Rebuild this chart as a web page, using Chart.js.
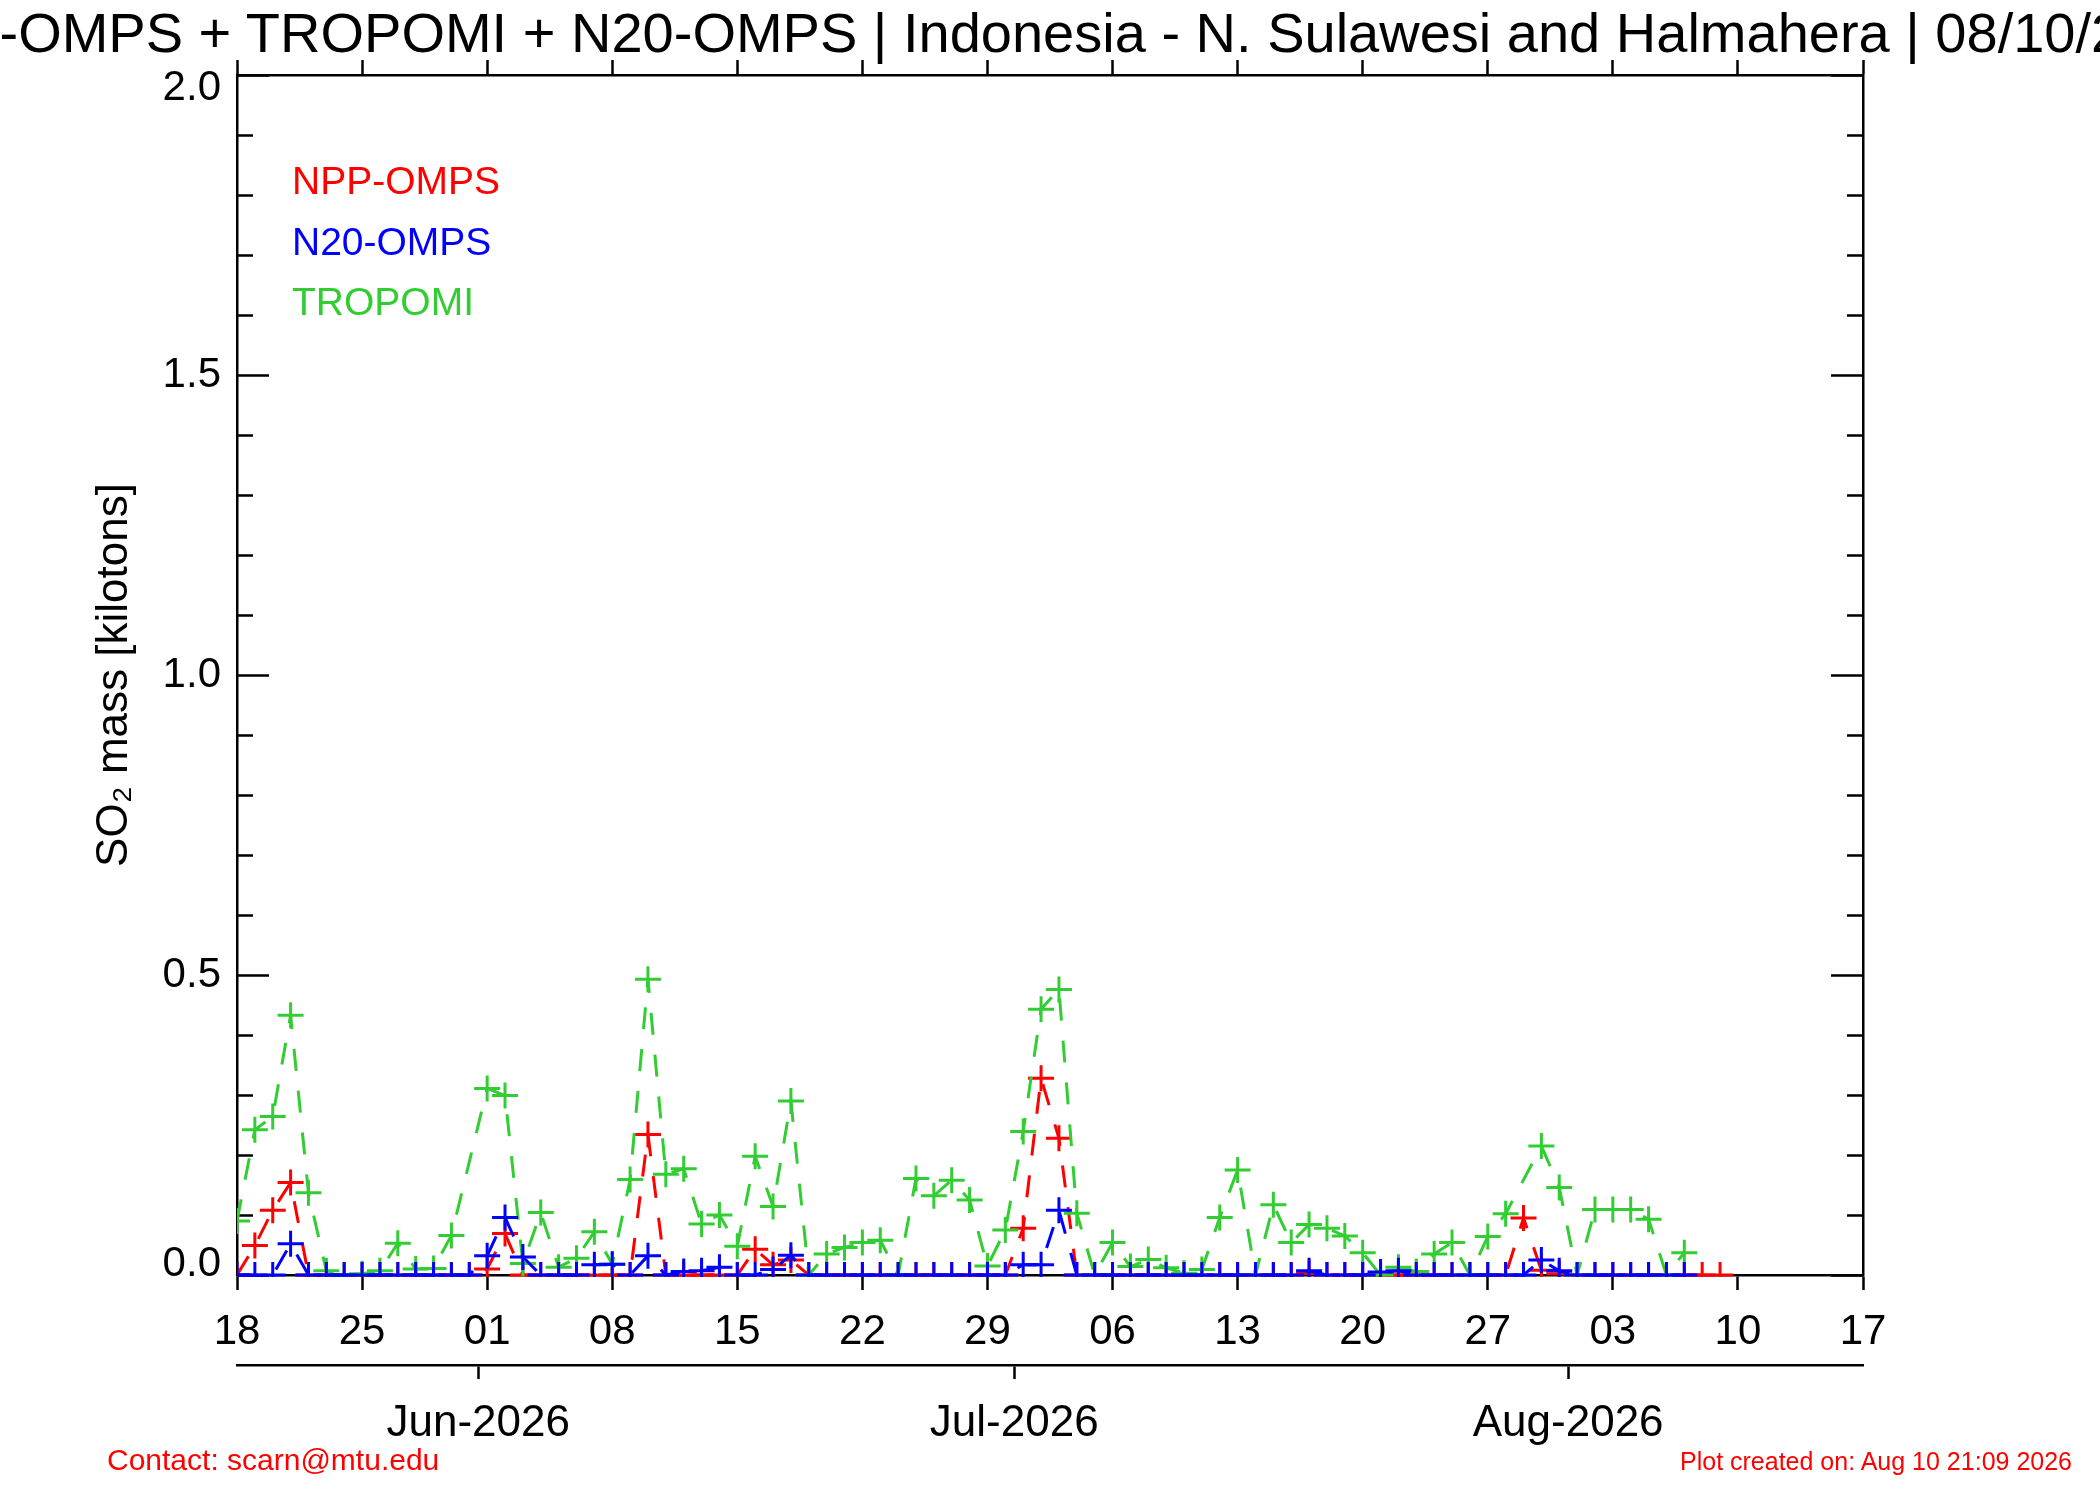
<!DOCTYPE html>
<html>
<head>
<meta charset="utf-8">
<title>SO2 mass - Indonesia - N. Sulawesi and Halmahera</title>
<script src="https://cdn.jsdelivr.net/npm/chart.js@4/dist/chart.umd.min.js"></script>
<style>
  body { margin: 0; background: #fff; overflow: hidden; }
  #wrap { position: relative; width: 2100px; height: 1500px; overflow: hidden; font-family: 'Liberation Sans', Arial, Helvetica, sans-serif; }
  #c { position: absolute; left: 0; top: 0; }
  .txt { position: absolute; white-space: nowrap; }
  #title { left: 1050px; top: 5px; transform: translateX(-50%); font-size: 56px; line-height: 55px; color: #000; }
  .leg { left: 292px; font-size: 39px; line-height: 39px; }
  #contact { left: 107px; top: 1445px; font-size: 30px; line-height: 29px; color: #f00; }
  #created { right: 28px; top: 1449px; font-size: 25px; line-height: 25px; color: #f00; }
</style>
</head>
<body>
<div id="wrap">
  <canvas id="c" width="2100" height="1500" style="width:2100px;height:1500px"></canvas>
  <div id="title" class="txt">NPP-OMPS + TROPOMI + N20-OMPS | Indonesia - N. Sulawesi and Halmahera | 08/10/2026</div>
  <div class="txt leg" style="top:161px;color:#ff0000">NPP-OMPS</div>
  <div class="txt leg" style="top:222px;color:#0000ff">N20-OMPS</div>
  <div class="txt leg" style="top:282px;color:#32cd32">TROPOMI</div>
  <div id="contact" class="txt">Contact: scarn@mtu.edu</div>
  <div id="created" class="txt">Plot created on: Aug 10 21:09 2026</div>
</div>
<script>
// daily SO2 mass (kilotons), day 0 = 18 May 2026, null = no retrieval
const npp = [
  0, 0.049, 0.108, 0.154, 0, 0, 0,
  0, 0, 0, 0, 0, 0, 0,
  0.01, 0.069, 0, 0, 0, 0, 0,
  0, 0, 0.234, 0, 0, 0, 0,
  0, 0.043, 0.017, 0.025, 0, 0, 0,
  0, 0, 0, 0, 0, 0, 0,
  0, 0, 0.078, 0.328, 0.228, 0, 0,
  0, 0, 0, 0, 0, 0, 0,
  0, 0, 0, 0, 0.003, 0, 0,
  0, 0, 0, 0, 0, 0, 0,
  0, 0, 0.095, 0.008, 0.002, 0, 0,
  0, 0, 0, 0, 0, 0, 0
];
const n20 = [
  0, 0, 0, 0.052, 0, 0, 0,
  0, 0, 0, 0, 0, 0, 0,
  0.032, 0.096, 0.03, 0, 0, 0, 0.017,
  0.018, 0, 0.032, 0, 0.006, 0.007, 0.013,
  0, 0, 0.009, 0.033, 0, 0, 0,
  0, 0, 0, 0, 0, 0, 0,
  0, 0, 0.017, 0.017, 0.108, 0, 0,
  0, 0, 0, 0, 0, 0, 0,
  0, 0, 0, 0, 0.007, 0, 0,
  0, 0.005, 0.007, 0, 0, 0, 0,
  0, 0, 0, 0.025, 0.007, 0, 0,
  0, 0, 0, 0, 0
];
const tropomi = [
  0.09, 0.242, 0.264, 0.433, 0.137, 0.007, 0,
  0.002, 0.007, 0.053, 0.01, 0.011, 0.066, null,
  0.311, 0.299, 0.019, 0.104, 0.013, 0.028, 0.072,
  0.018, 0.159, 0.493, 0.168, 0.177, 0.085, 0.1,
  0.048, 0.198, 0.114, 0.29, 0, 0.035, 0.046,
  0.054, 0.058, 0, 0.161, 0.132, 0.158, 0.125,
  0.015, 0.075, 0.239, 0.443, 0.476, 0.103, 0,
  0.054, 0.014, 0.026, 0.012, 0.003, 0.009, 0.096,
  0.175, 0, 0.117, 0.054, 0.084, 0.078, 0.065,
  0.037, 0, 0.013, 0.006, 0.035, 0.054, 0,
  0.064, 0.102, null, 0.215, 0.146, 0, 0.109,
  0.109, 0.109, 0.093, 0, 0.037
];

// axis labels
const dayLabels = ['18', '25', '01', '08', '15', '22', '29', '06', '13', '20', '27', '03', '10', '17'];
const monthLabels = ['Jun-2026', 'Jul-2026', 'Aug-2026'];
const monthStart = [14, 44, 75];   // day index of the 1st of each month
const yMinorStep = 0.1;

const BLACK = '#000';

function series(values, color) {
  return {
    data: values.map((v, i) => ({ x: i, y: v })),
    xAxisID: 'x',
    yAxisID: 'y',
    borderColor: color,
    borderWidth: 3,
    borderDash: [22, 20],
    pointStyle: 'cross',
    pointRadius: 13,
    pointBorderWidth: 3,
    pointBorderColor: color,
    pointBackgroundColor: color,
    spanGaps: true,
    tension: 0,
    clip: { left: 0, top: 0, right: 0, bottom: 2 }
  };
}

// IDL style inward ticks on the left and right frame
const frameTicks = {
  id: 'frameTicks',
  beforeDatasetsDraw(chart) {
    const { ctx, chartArea: { left, right }, scales: { y } } = chart;
    ctx.save();
    ctx.strokeStyle = BLACK;
    ctx.lineWidth = 2.5;
    const n = Math.round((y.max - y.min) / yMinorStep);
    for (let k = 0; k <= n; k++) {
      const py = Math.round(y.getPixelForValue(y.min + k * yMinorStep)) + 0.5;
      const len = k % 5 === 0 ? 32 : 16;
      ctx.beginPath();
      ctx.moveTo(left, py); ctx.lineTo(left + len, py);
      ctx.moveTo(right, py); ctx.lineTo(right - len, py);
      ctx.stroke();
    }
    ctx.restore();
  }
};

Chart.defaults.font.family = "'Liberation Sans', Arial, Helvetica, sans-serif";
Chart.defaults.color = BLACK;

const border = { display: true, color: BLACK, width: 2.5 };
const outTicks = { drawOnChartArea: false, tickLength: 15, tickWidth: 2.5, tickColor: BLACK, color: BLACK };

new Chart(document.getElementById('c'), {
  type: 'line',
  data: {
    datasets: [
      series(n20, '#0000ff'),
      series(tropomi, '#32cd32'),
      series(npp, '#ff0000')
    ]
  },
  options: {
    responsive: false,
    animation: false,
    devicePixelRatio: 1,
    layout: { padding: 0 },
    plugins: {
      legend: { display: false },
      tooltip: { enabled: false },
      title: { display: false }
    },
    scales: {
      xTop: {
        type: 'linear', position: 'top', min: 0, max: 91,
        ticks: { stepSize: 7, display: false },
        grid: outTicks,
        border: border,
        afterFit: s => { s.height = 75; }
      },
      x: {
        type: 'linear', position: 'bottom', weight: 0, min: 0, max: 91,
        ticks: {
          stepSize: 7, autoSkip: false, maxRotation: 0, padding: 17,
          font: { size: 42 }, color: BLACK,
          callback: (v, i) => dayLabels[i]
        },
        grid: outTicks,
        border: border,
        afterFit: s => { s.height = 90; }
      },
      xMonth: {
        type: 'linear', position: 'bottom', weight: 1, min: 0, max: 91,
        afterBuildTicks: s => { s.ticks = monthStart.map(d => ({ value: d - 0.5 })); },
        ticks: {
          autoSkip: false, maxRotation: 0, padding: 18,
          font: { size: 44 }, color: BLACK,
          callback: (v, i) => monthLabels[i]
        },
        grid: { drawOnChartArea: false, tickLength: 14, tickWidth: 2.5, tickColor: BLACK, color: BLACK },
        border: border,
        afterFit: s => { s.height = 135; }
      },
      y: {
        position: 'left', min: 0, max: 2,
        ticks: {
          stepSize: 0.5, padding: 16, color: BLACK,
          // end labels are nudged inward, like the IDL original
          font: c => ({ size: 42, lineHeight: c.index === 0 ? '22px' : (c.tick && c.tick.value === 2 ? '26px' : 1.2) }),
          callback: (v, i, ticks) => {
            const s = v.toFixed(1);
            if (i === 0) return [s, ''];
            if (i === ticks.length - 1) return ['', s];
            return s;
          }
        },
        grid: { display: false, drawTicks: false },
        border: border,
        title: {
          display: true, text: 'SO₂ mass [kilotons]', color: BLACK,
          font: { size: 44 }, padding: { top: 88, bottom: 0 }
        },
        afterFit: s => { s.width = 237; }
      },
      y2: {
        position: 'right', min: 0, max: 2,
        ticks: { display: false },
        grid: { display: false, drawTicks: false },
        border: border,
        afterFit: s => { s.width = 237; }
      }
    }
  },
  plugins: [frameTicks]
});
</script>
</body>
</html>
